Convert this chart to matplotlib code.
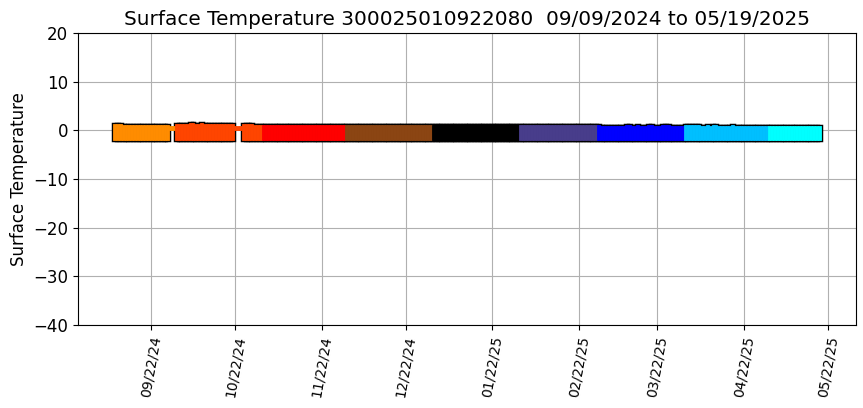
import numpy as np
import pandas as pd
import matplotlib
matplotlib.use("Agg")
import matplotlib.pyplot as plt
import matplotlib.dates as mdates

# daily range of surface temperature, one list per month
month_start = ["2024-09-09", "2024-10-01", "2024-11-01", "2024-12-01", "2025-01-01",
               "2025-02-01", "2025-03-01", "2025-04-01", "2025-05-01"]
month_colors = ["darkorange", "orangered", "red", "saddlebrown", "black",
                "darkslateblue", "blue", "deepskyblue", "cyan"]

sep_max = [1.35, 1.35, 1.35, 1.15, 1.15, 1.2, 1.15, 1.05, 1.15, 1.2, 1.15,
           1.15, 1.2, 1.15, 1.15, 1.15, 1.2, 1.15, 1.15, 1.15, 0.9, 0.9]
sep_min = [-1.93, -1.93, -1.93, -1.93, -1.93, -1.93, -1.93, -1.93, -1.93, -1.93, -1.93,
           -1.93, -1.93, -1.93, -1.93, -1.93, -1.93, -1.93, -1.93, -1.93, 0.1, 0.1]

oct_max = [1.3, 1.35, 1.4, 1.4, 1.4, 1.45, 1.45, 1.4, 1.4, 1.45, 1.4, 1.4, 1.4, 1.4, 1.35, 1.35,
           1.3, 1.3, 1.3, 1.25, 1.25, 0.9, 0.9, 0.9, 1.3, 1.3, 1.25, 1.25, 1.2, 1.2, 1.2]
oct_min = [-1.93, -1.93, -1.93, -1.93, -1.93, -1.93, -1.93, -1.93, -1.93, -1.93, -1.93,
           -1.93, -1.93, -1.93, -1.93, -1.93, -1.93, -1.93, -1.93, -1.93, -1.93,
           0.1, 0.1, 0.1, -1.93, -1.93, -1.93, -1.93, -1.93, -1.93, -1.93]

nov_max = [1.0, 1.0, 1.0, 1.05, 1.0, 1.0, 1.0, 1.0, 1.2, 1.0, 1.0, 1.2, 1.0, 1.0, 1.0,
           1.0, 1.0, 1.2, 1.0, 1.0, 1.0, 1.2, 1.2, 1.0, 1.0, 1.0, 1.05, 1.0, 1.0, 1.05]
nov_min = [-1.93, -1.93, -1.93, -1.93, -1.93, -1.93, -1.93, -1.93, -1.93, -1.93,
           -1.93, -1.93, -1.93, -1.93, -1.93, -1.93, -1.93, -1.93, -1.93, -1.93,
           -1.93, -1.93, -1.93, -1.93, -1.93, -1.93, -1.93, -1.93, -1.93, -1.93]

dec_max = [1.05, 1.05, 1.05, 1.05, 1.05, 1.05, 1.05, 1.05, 1.05, 1.05, 1.05, 1.05, 1.05, 1.05, 1.05, 1.05,
           1.05, 1.05, 1.05, 1.05, 1.05, 1.05, 1.05, 1.05, 1.05, 1.05, 1.05, 1.05, 1.05, 1.05, 1.05]
dec_min = [-1.93, -1.93, -1.93, -1.93, -1.93, -1.93, -1.93, -1.93, -1.93, -1.93, -1.93,
           -1.93, -1.93, -1.93, -1.93, -1.93, -1.93, -1.93, -1.93, -1.93, -1.93,
           -1.93, -1.93, -1.93, -1.93, -1.93, -1.93, -1.93, -1.93, -1.93, -1.93]

jan_max = [1.05, 1.05, 1.05, 1.05, 1.05, 1.05, 1.05, 1.05, 1.05, 1.05, 1.05, 1.05, 1.05, 1.05, 1.05, 1.05,
           1.05, 1.05, 1.05, 1.05, 1.05, 1.05, 1.05, 1.05, 1.05, 1.05, 1.05, 1.05, 1.05, 1.05, 1.05]
jan_min = [-1.93, -1.93, -1.93, -1.93, -1.93, -1.93, -1.93, -1.93, -1.93, -1.93, -1.93,
           -1.93, -1.93, -1.93, -1.93, -1.93, -1.93, -1.93, -1.93, -1.93, -1.93,
           -1.93, -1.93, -1.93, -1.93, -1.93, -1.93, -1.93, -1.93, -1.93, -1.93]

feb_max = [1.05, 1.05, 1.05, 1.05, 1.05, 1.05, 1.05, 1.05, 1.05, 1.05, 1.05, 1.05, 1.05, 1.05,
           1.05, 1.05, 1.05, 1.05, 1.05, 1.05, 1.05, 1.05, 1.05, 1.05, 1.05, 1.05, 1.1, 1.05]
feb_min = [-1.93, -1.93, -1.93, -1.93, -1.93, -1.93, -1.93, -1.93, -1.93, -1.93,
           -1.93, -1.93, -1.93, -1.93, -1.93, -1.93, -1.93, -1.93, -1.93, -1.93,
           -1.93, -1.93, -1.93, -1.93, -1.93, -1.93, -1.93, -1.93]

mar_max = [1.05, 0.95, 0.85, 0.85, 0.85, 0.85, 0.85, 0.85, 0.85, 0.85, 1.05, 1.05, 0.85, 0.85, 1.05, 0.85,
           0.85, 0.85, 1.05, 1.05, 0.85, 0.85, 0.85, 1.05, 1.0, 1.05, 0.85, 0.85, 0.85, 0.85, 0.85]
mar_min = [-1.93, -1.93, -1.93, -1.93, -1.93, -1.93, -1.93, -1.93, -1.93, -1.93, -1.93,
           -1.93, -1.93, -1.93, -1.93, -1.93, -1.93, -1.93, -1.93, -1.93, -1.93,
           -1.93, -1.93, -1.93, -1.93, -1.93, -1.93, -1.93, -1.93, -1.93, -1.93]

apr_max = [1.05, 1.05, 1.05, 1.05, 1.05, 1.05, 0.95, 0.9, 1.0, 0.95, 1.05, 1.05, 0.9, 0.85, 0.85,
           0.85, 0.85, 1.1, 0.85, 0.85, 0.85, 0.85, 0.85, 0.85, 0.85, 0.95, 0.95, 0.95, 0.95, 0.95]
apr_min = [-1.93, -1.93, -1.93, -1.93, -1.93, -1.93, -1.93, -1.93, -1.93, -1.93,
           -1.93, -1.93, -1.93, -1.93, -1.93, -1.93, -1.93, -1.93, -1.93, -1.93,
           -1.93, -1.93, -1.93, -1.93, -1.93, -1.93, -1.93, -1.93, -1.93, -1.93]

may_max = [0.8, 0.8, 0.8, 0.8, 0.8, 0.8, 0.8, 0.8, 0.8, 0.8, 0.8, 0.8, 0.8, 0.8, 0.8, 0.8, 0.8, 0.8, 0.8]
may_min = [-1.93, -1.93, -1.93, -1.93, -1.93, -1.93, -1.93, -1.93, -1.93, -1.93,
           -1.93, -1.93, -1.93, -1.93, -1.93, -1.93, -1.93, -1.93, -1.93]

daily_max = [sep_max, oct_max, nov_max, dec_max, jan_max, feb_max, mar_max, apr_max, may_max]
daily_min = [sep_min, oct_min, nov_min, dec_min, jan_min, feb_min, mar_min, apr_min, may_min]

fig = plt.figure(figsize=(8.63, 4.08), dpi=100)
ax = fig.add_axes([0.0904, 0.2034, 0.9015, 0.7157])

# black layer first so the outline goes around the whole band
# (days with only a narrow range get no outline)
for start, hi, lo in zip(month_start, daily_max, daily_min):
    days = pd.date_range(start, periods=len(hi))
    hi = np.array(hi)
    lo = np.array(lo)
    full = lo < -1.0
    ax.bar(days[full], (hi - lo)[full], bottom=lo[full], width=1.0, color="k",
           edgecolor="k", linewidth=2.5, zorder=2)

for start, hi, lo, c in zip(month_start, daily_max, daily_min, month_colors):
    days = pd.date_range(start, periods=len(hi))
    hi = np.array(hi)
    lo = np.array(lo)
    ax.bar(days, hi - lo, bottom=lo, width=1.0, color=c, edgecolor=c,
           linewidth=0.6, zorder=3)

ax.set_ylim(-40, 20)
ax.set_yticks([-40, -30, -20, -10, 0, 10, 20])
ax.xaxis.set_major_locator(mdates.MonthLocator(bymonthday=22))
ax.xaxis.set_major_formatter(mdates.DateFormatter("%m/%d/%y"))
ax.tick_params(axis="x", labelsize=10, labelrotation=80)
ax.tick_params(axis="y", labelsize=12)
ax.grid(True, zorder=0)
ax.set_axisbelow(True)

ax.set_ylabel("Surface Temperature", fontsize=12)
ax.set_title("Surface Temperature 300025010922080  09/09/2024 to 05/19/2025", fontsize=14.4)

fig.savefig("out.png", dpi=100)
